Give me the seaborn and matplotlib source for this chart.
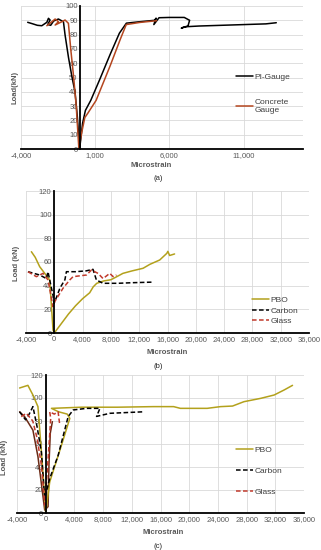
import numpy as np
import pandas as pd
import seaborn as sns
import matplotlib.pyplot as plt
from matplotlib.ticker import FuncFormatter

sns.set_theme(style="white")
plt.rcParams['font.family'] = ['Liberation Sans', 'DejaVu Sans']

# ---- panel (a) ----
pi_x = [-3550, -3200, -2900, -2600, -2260, -2150, -2040, -2200, -2000, -1800, -1480, -1140,
        -1030, -800, -560, -360, -200, -50, 150, 340, 700, 1280, 2000, 2630, 3100, 4000,
        5000, 5100, 4950, 5300, 6000, 7000, 7360, 7250, 6900, 6800, 7100, 8000, 9500, 11000,
        12500, 13200]
pi_y = [88.6, 87.5, 86.5, 86.2, 88.6, 91.4, 90.2, 87, 86.5, 89.5, 90.9, 89,
        79.7, 64, 50, 40, 22, 0, 18, 27, 34, 48, 66, 81, 88, 89,
        90, 91.5, 87, 91.8, 92, 92, 90, 86, 85, 84.5, 85.5, 86, 86.5, 87,
        87.5, 88.3]
cg_x = [-2260, -1920, -1700, -1480, -1700, -1250, -1030, -806, -650, -450, -280, -100, 100,
        300, 500, 1060, 2000, 2700, 3090, 4000, 5130]
cg_y = [86.2, 89, 90.9, 89, 86.7, 89, 90.2, 87.9, 70, 50, 30, 0, 12,
        22, 25, 34, 58, 77, 87, 88.5, 89.7]

# ---- panel (b) ----
pbo_b_x = [-3240, -2700, -2060, -1300, -650, -180, 0, 1000, 2000, 3000, 4000, 5000, 5500,
           6000, 7000, 8000, 8800, 9700, 11000, 12550, 13500, 14900, 15900, 16050, 16300, 17000]
pbo_b_y = [68.7, 64, 56, 50, 44.8, 2.5, 0, 8, 16, 23, 29, 34, 39,
           42, 44, 45, 47.5, 50.4, 52.5, 54.7, 58, 61.7, 67.3, 69, 65.5, 66.8]
car_b_x = [-3720, -2060, -1120, -890, -650, -180, -60, 300, 800, 1500, 1710, 3000, 4500,
           5470, 5950, 6890, 9000, 11000, 13960]
car_b_y = [51.8, 49, 46, 51.8, 44.8, 31.8, 25, 30, 38, 45, 51.8, 51.8, 52.5,
           53.8, 44.8, 42, 42, 42.5, 43]
gla_b_x = [-3720, -2530, -1590, -890, -180, 60, 1230, 2180, 2650, 4540, 5250, 6180, 6890,
           7840, 8310, 8780]
gla_b_y = [51.8, 47.6, 50.4, 44.8, 22.2, 26.5, 37.8, 44.8, 47.6, 49, 53.2, 50.4, 46,
           50.4, 47.6, 49]

# ---- panel (c) ----
pbo_c_x = [-3640, -2480, -1780, -1080, -500, 0, 560, 2000, 3360, 3000, 1800, 800, 5000,
           10000, 15000, 17830, 18770, 22500, 24370, 26040, 27630, 29970, 31840, 33240, 34400]
pbo_c_y = [108.7, 111, 102.6, 92.5, 45, 0, 27, 55, 82.3, 86, 88, 91, 92,
           92, 92.5, 92.5, 91, 91, 92.5, 93, 96.8, 99.7, 102.6, 107, 111]
car_c_x = [-3640, -2800, -2300, -1780, -1200, -600, -140, 560, 1730, 3130, 3830, 5700, 7560,
           7090, 8960, 13630]
car_c_y = [88, 81, 86, 92.5, 75, 53, 12.8, 30, 50, 83.8, 89.6, 91, 91,
           84, 86.7, 88]
gla_c_x = [-3410, -2700, -1800, -1200, -600, -140, 280, 700, 560, 1200, 1730, 1960]
gla_c_y = [83.8, 86.7, 80, 65, 41.7, 7, 41.7, 82.3, 88, 86, 88, 76.5]
brn_c_x = [-3640, -2940, -1780, -1080, -370, -140, 330, 460, 640, 930]
brn_c_y = [88, 83.8, 72, 49, 14, 2.6, 5.5, 43, 69.5, 79.4]

W, H = 321, 550
fig = plt.figure(figsize=(W / 100, H / 100), dpi=100)


def box(x0, y0, x1, y1):
    return [x0 / W, 1 - y1 / H, (x1 - x0) / W, (y1 - y0) / H]


ax_a = fig.add_axes(box(21, 6, 303, 149))
ax_b = fig.add_axes(box(26, 191, 309, 333))
ax_c = fig.add_axes(box(17, 375, 304, 513))

black = '#000000'
conc = '#B4461F'
olive = '#B3A11C'
glass = '#C0392B'
lw = 1.1
DASH = (3, 1.6)


def draw(ax, x, y, color, label, dash=False):
    df = pd.DataFrame({'x': x, 'y': y})
    line = sns.lineplot(data=df, x='x', y='y', sort=False, estimator=None, ax=ax,
                        color=color, lw=lw, label=label).get_lines()[-1]
    if dash:
        line.set_dashes(DASH)


draw(ax_a, pi_x, pi_y, black, 'PI-Gauge')
draw(ax_a, cg_x, cg_y, conc, 'Concrete\nGauge')

draw(ax_b, pbo_b_x, pbo_b_y, olive, 'PBO')
draw(ax_b, car_b_x, car_b_y, black, 'Carbon', True)
draw(ax_b, gla_b_x, gla_b_y, glass, 'Glass', True)

draw(ax_c, brn_c_x, brn_c_y, '#6B2A16', '_nolegend_')
draw(ax_c, pbo_c_x, pbo_c_y, olive, 'PBO')
draw(ax_c, car_c_x, car_c_y, black, 'Carbon', True)
draw(ax_c, gla_c_x, gla_c_y, glass, 'Glass', True)

fmt = FuncFormatter(lambda v, p: f"{int(v):,}")
grey = '#595959'
for ax, xl, xt, yl, yt in [
        (ax_a, (-4000, 15000), [-4000, 1000, 6000, 11000], (0, 100), range(0, 101, 10)),
        (ax_b, (-4000, 36000), range(-4000, 36001, 4000), (0, 120), range(0, 121, 20)),
        (ax_c, (-4000, 36000), range(-4000, 36001, 4000), (0, 120), range(0, 121, 20))]:
    ax.set_xlim(*xl)
    ax.set_ylim(*yl)
    ax.set_xticks(list(xt))
    ax.set_yticks(list(yt))
    ax.xaxis.set_major_formatter(fmt)
    ax.grid(True, color='#d9d9d9', lw=0.6)
    ax.set_axisbelow(True)
    for s in ['top', 'right']:
        ax.spines[s].set_visible(False)
    ax.spines['left'].set_position(('data', 0))
    ax.spines['left'].set_color('black')
    ax.spines['left'].set_linewidth(1.3)
    ax.spines['bottom'].set_color('black')
    ax.spines['bottom'].set_linewidth(1.3)
    ax.tick_params(length=0, labelsize=5.5, labelcolor=grey, pad=2)
    ax.set_xlabel('')
    ax.set_ylabel('')

# y-axis titles
ax_a.set_ylabel('Load(kN)', fontsize=5.5, color=grey, fontweight='bold')
ax_a.yaxis.set_label_coords(-0.01, 0.43)
ax_b.set_ylabel('Load (kN)', fontsize=5.5, color=grey, fontweight='bold')
ax_b.yaxis.set_label_coords(-0.02, 0.49)
ax_c.set_ylabel('Load (kN)', fontsize=5.5, color=grey, fontweight='bold')
ax_c.yaxis.set_label_coords(-0.03, 0.40)

# x-axis titles and captions
for xc, yc, cap_y, cap in [(151, 166, 178, '(a)'), (167, 353, 367, '(b)'), (163, 532, 547, '(c)')]:
    fig.text(xc / W, 1 - yc / H, 'Microstrain', ha='center', va='center',
             fontsize=5.5, color=grey, fontweight='bold')
    fig.text(158 / W, 1 - cap_y / H, cap, ha='center', va='center', fontsize=5.5, color='#222222')

leg_kw = dict(frameon=False, fontsize=6, handlelength=2.0, handletextpad=0.2,
              borderaxespad=0, borderpad=0)
la = ax_a.legend(loc='upper left', bbox_to_anchor=(236 / W, 1 - 73 / H),
                 bbox_transform=fig.transFigure, labelspacing=2.2, **leg_kw)
lb = ax_b.legend(loc='upper left', bbox_to_anchor=(252 / W, 1 - 296 / H),
                 bbox_transform=fig.transFigure, labelspacing=0.35, **leg_kw)
lc = ax_c.legend(loc='upper left', bbox_to_anchor=(236 / W, 1 - 446 / H),
                 bbox_transform=fig.transFigure, labelspacing=1.6, **leg_kw)
for leg in (la, lb, lc):
    for t in leg.get_texts():
        t.set_color('#404040')
    for h, t in zip(leg.legend_handles, leg.get_texts()):
        if t.get_text() in ('Carbon', 'Glass'):
            h.set_dashes(DASH)

fig.savefig('out.png', dpi=100)
